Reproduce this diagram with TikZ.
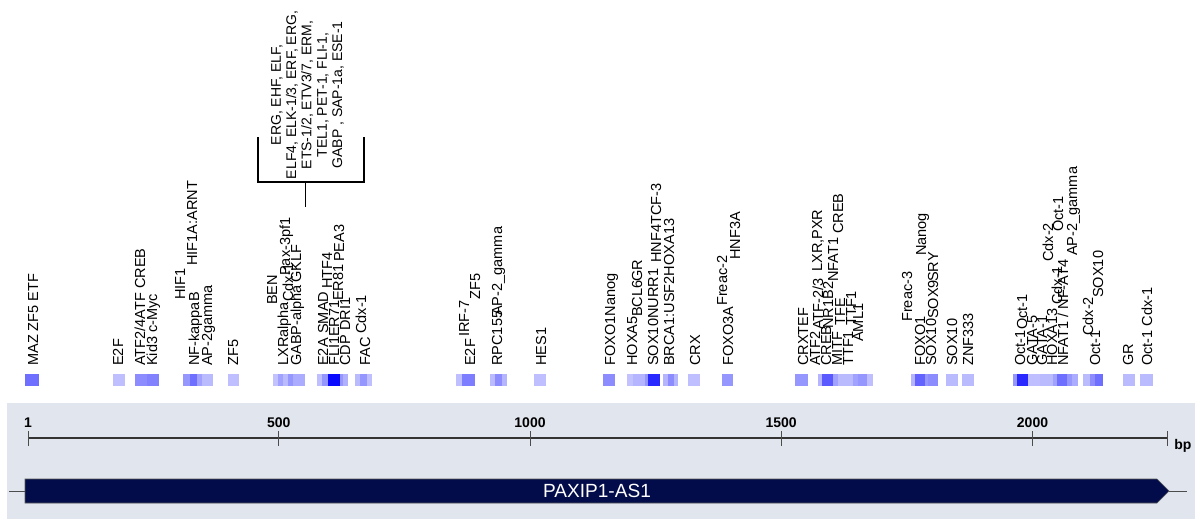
\documentclass[tikz,border=0pt]{standalone}
\usepackage{fontspec}
\setmainfont{Liberation Sans}
\definecolor{bandgray}{RGB}{225,229,238}
\definecolor{genenavy}{RGB}{2,12,74}
\tikzset{
  tf/.style={rotate=90,anchor=base west,inner sep=0pt,font=\fontsize{10.9}{12}\selectfont},
  ticklbl/.style={inner sep=0pt,font=\bfseries\fontsize{10.5}{12}\selectfont},
  rulertick/.style={gray!60!black,line width=0.5pt}
}
\begin{document}
\begin{tikzpicture}[x=0.75pt,y=-0.75pt]
  \useasboundingbox (0,0) rectangle (1201,519);
  % binding sites
  \foreach \xa/\xb/\p in {25/39/57, 113/125/25, 135/147/45, 147/159/49,
      183/190/41, 190/197/57, 197/202/37, 202/213/27, 228/239/25,
      273/278/24, 278/283/37, 283/288/27, 288/293/41, 293/305/33,
      317/322/25, 322/328/41, 328/340/96, 340/343/41, 343/348/31,
      355/360/27, 360/367/41, 367/372/25, 456/462/25, 462/475/51,
      490/495/27, 495/502/45, 502/507/29, 534/546/25, 603/615/45,
      627/633/24, 633/645/29, 645/648/41, 648/660/84,
      663/668/29, 668/674/45, 674/678/29, 688/700/25, 722/733/41,
      795/808/41, 818/822/29, 822/833/65, 833/838/37, 838/853/27,
      853/858/37, 858/867/41, 867/873/25,
      911/915/29, 915/925/61, 925/928/41, 928/938/45, 946/958/27, 962/974/27,
      1013/1017/41, 1017/1028/84, 1028/1040/25, 1040/1053/27, 1053/1057/37,
      1057/1067/57, 1067/1072/41, 1072/1078/33,
      1083/1090/27, 1090/1095/45, 1095/1103/57, 1123/1135/27, 1140/1153/27}
    \fill[blue!\p] (\xa,374) rectangle (\xb,386);
  % factor names
  \foreach \x/\y/\t [count=\i] in {38/366/{MAZ ZF5 ETF}, 123/366/E2F,
      145/366/{ATF2/4ATF CREB}, 157/366/{Kid3 c-Myc}, 185/300/HIF1,
      197/266/{HIF1A:ARNT}, 199/366/NF-kappaB, 212/366/AP-2gamma, 238/366/ZF5,
      277/305/BEN, 288/366/LXRalpha, 293/302/Cdx-1, 290/276/Pax-3pf1,
      301/366/GABP-alpha, 301/283/GKLF,
      328/366/E2A, 328/334/SMAD, 332/289/HTF4, 339/366/FLI1, 339/337/ER71,
      343/301/ER81, 344/262/PEA3, 350/366/CDP, 350/331/DRI1,
      370/366/FAC, 366/334/Cdx-1,
      475/366/E2F, 469/337/IRF-7, 480/300/ZF5, 502/366/RPC155,
      502/316/AP-2\_gamma, 546/366/HES1, 615/366/FOXO1Nanog,
      637/366/HOXA5, 642/317/BCL6, 642/282/GR, 658/366/SOX10NURR1,
      661/263/HNF4TCF-3, 674/366/{BRCA1:USF2HOXA13}, 700/366/CRX,
      733/366/FOXO3A, 727/306/Freac-2, 740/260/HNF3A,
      808/366/CRXTEF, 820/366/ATF2, 823/330/{ATF-2/3}, 822/272/{LXR,PXR},
      831/366/CREB, 833/329/NR1B2, 838/282/NFAT1, 843/234/CREB,
      842/366/MITF, 845/326/TFE, 853/366/TTF1, 856/326/TTF1, 863/342/AML1,
      925/366/FOXO1, 912/322/Freac-3, 936/366/SOX10, 938/319/SOX9,
      938/282/SRY, 926/256/Nanog, 957/366/SOX10, 973/366/ZNF333,
      1025/366/Oct-1, 1027/330/Oct-1, 1037/366/GATA-5, 1047/366/GATA-1,
      1053/262/Cdx-2, 1057/366/HOXA13, 1062/305/Cdx-1,
      1068/366/{NFAT1 / NF-AT4}, 1077/256/AP-2\_gamma, 1063/232/Oct-1,
      1100/366/Oct-1, 1093/336/Cdx-2, 1103/298/SOX10,
      1133/366/GR, 1152/366/{Oct-1 Cdx-1}}
    \node[tf] (tf\i) at (\x,\y) {\t};
  % ETS family block
  \node[rotate=90,align=center,inner sep=0pt,font=\fontsize{10.5}{11.5}\selectfont]
    (ets) at (307.5,95) {ERG, EHF, ELF,\\ELF4, ELK-1/3, ERF, ERG,\\ETS-1/2, ETV3/7, ERM,\\TEL1, PET-1, FLI-1,\\GABP , SAP-1a, ESE-1};
  \draw[line width=1.5pt] (258,137) -- (258,182) -- (364,182) -- (364,137);
  \draw (305,182) -- (305,207);
  % ruler band
  \fill[bandgray] (7,403) rectangle (1195,519);
  \draw[line width=1.2pt,black!80] (28,438) -- (1167,438);
  \foreach \p in {28,278.7,530,781.2,1032.5,1167}
    \draw[rulertick] (\p,431) -- (\p,446);
  \foreach \p/\l in {28/1,278.7/500,530/1000,781.2/1500,1032.5/2000}
    \node[ticklbl] (pos\l) at (\p,423) {\l};
  \node[ticklbl,anchor=west] (bp) at (1174,446) {bp};
  % gene
  \draw[black!70] (9,491) -- (25,491);
  \draw[black!70] (1169,491) -- (1187,491);
  \draw[fill=genenavy,draw=gray!70!black] (25,479) -- (1157,479) -- (1169,491) -- (1157,503) -- (25,503) -- cycle;
  \node[text=white,font=\fontsize{14.3}{16}\selectfont] (gene) at (597,491) {PAXIP1-AS1};
\end{tikzpicture}
\end{document}
